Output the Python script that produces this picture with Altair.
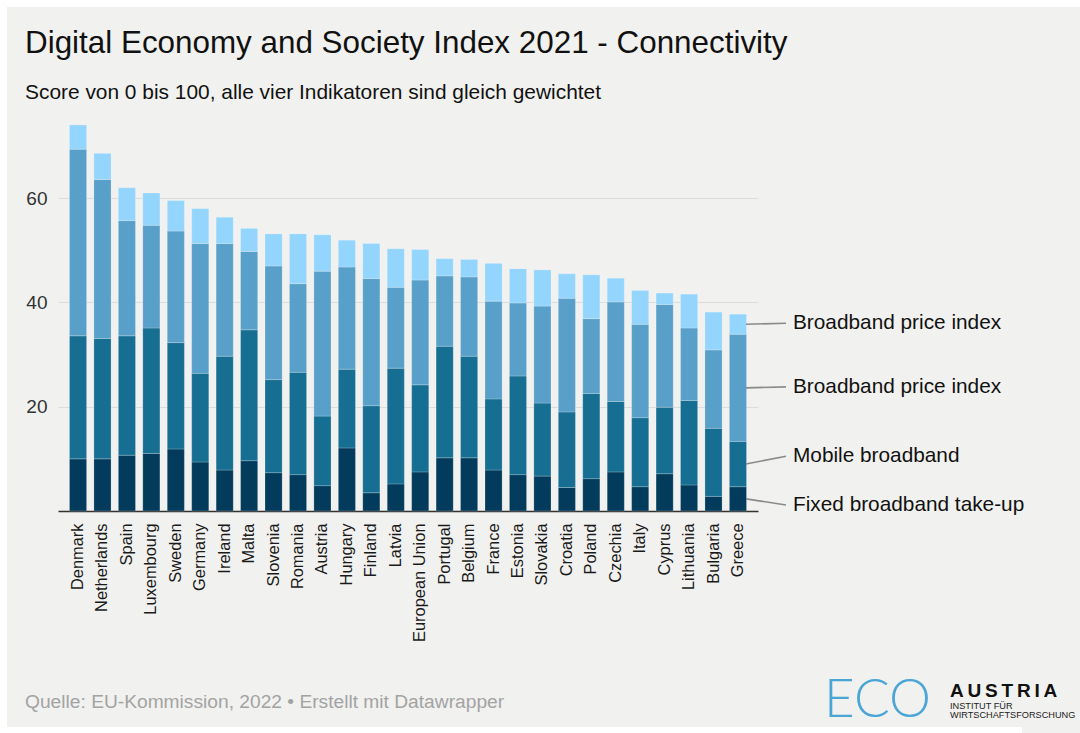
import altair as alt
import pandas as pd

# ---------------- data ----------------
countries = ["Denmark", "Netherlands", "Spain", "Luxembourg", "Sweden", "Germany",
             "Ireland", "Malta", "Slovenia", "Romania", "Austria", "Hungary",
             "Finland", "Latvia", "European Union", "Portugal", "Belgium", "France",
             "Estonia", "Slovakia", "Croatia", "Poland", "Czechia", "Italy",
             "Cyprus", "Lithuania", "Bulgaria", "Greece"]

fixed_takeup = [10.0, 10.0, 10.7, 11.05, 11.9, 9.4, 7.86, 9.65, 7.35, 6.97, 4.86, 12.1,
                3.5, 5.2, 7.5, 10.2, 10.2, 7.86, 6.97, 6.7, 4.5, 6.2, 7.5, 4.66,
                7.15, 5.0, 2.8, 4.66]
mobile_bb = [23.6, 23.1, 22.9, 24.05, 20.4, 17.0, 21.84, 25.1, 17.85, 19.63, 13.34, 15.1,
             16.7, 22.2, 16.7, 21.4, 19.5, 13.64, 18.93, 14.0, 14.5, 16.35, 13.5, 13.24,
             12.75, 16.2, 13.05, 8.69]
price_index_2 = [35.8, 30.5, 22.1, 19.7, 21.4, 24.9, 21.6, 15.05, 21.8, 17.0, 27.8, 19.6,
                 24.4, 15.5, 20.1, 13.5, 15.2, 18.75, 14.0, 18.6, 21.8, 14.35, 19.1, 17.9,
                 19.7, 13.9, 15.05, 20.55]
price_index_1 = [4.65, 5.0, 6.3, 6.2, 5.85, 6.7, 5.05, 4.4, 6.15, 9.55, 6.97, 5.15,
                 6.7, 7.4, 5.85, 3.3, 3.35, 7.25, 6.55, 6.95, 4.7, 8.4, 4.55, 6.5,
                 2.2, 6.5, 7.25, 3.85]

series_keys = ["fixed", "mobile", "price2", "price1"]
series_labels = ["Fixed broadband take-up", "Mobile broadband",
                 "Broadband price index", "Broadband price index"]
series_colors = ["#023b5c", "#166e93", "#58a0c9", "#94d5fd"]
label_values = [1.15, 10.5, 23.8, 36.0]   # vertical position of the right-hand labels

title = "Digital Economy and Society Index 2021 - Connectivity"
subtitle = "Score von 0 bis 100, alle vier Indikatoren sind gleich gewichtet"
footer = "Quelle: EU-Kommission, 2022 \u2022 Erstellt mit Datawrapper"

# ---------------- build tables ----------------
cols = [fixed_takeup, mobile_bb, price_index_2, price_index_1]
rows = []
for i, c in enumerate(countries):
    for k, key in enumerate(series_keys):
        rows.append({"country": c, "series": key, "order": k, "value": cols[k][i]})
df = pd.DataFrame(rows)

last = len(countries) - 1
cum = 0.0
mids = []
for k in range(4):
    v = cols[k][last]
    mids.append(cum + v / 2)
    cum += v
ann = pd.DataFrame({"mid": mids, "lab": label_values, "text": series_labels})

FONT = "Liberation Sans"
BG = "#f1f1ef"
W, H = 700, 391
PL, PT = 58, 120

x_enc = alt.X("country:N", sort=countries,
              scale=alt.Scale(paddingInner=0.3, paddingOuter=0.47),
              axis=alt.Axis(title=None, labelAngle=-90, labelFontSize=16.4, labelColor="#1a1a1a",
                            labelFont=FONT, labelPadding=12, ticks=False,
                            domainColor="#333333", domainWidth=1.6, labelOverlap=False))
y_scale = alt.Scale(domain=[0, 75], nice=False)

bars = alt.Chart(df).mark_bar(stroke="#ffffff", strokeWidth=0.6, strokeOpacity=0.35).encode(
    x=x_enc,
    y=alt.Y("value:Q", stack="zero", scale=y_scale,
            axis=alt.Axis(title=None, values=[20, 40, 60], labelFontSize=19, labelColor="#333333",
                          labelFont=FONT, labelPadding=11, ticks=False, domain=False,
                          gridColor="#dcdcda", gridWidth=1)),
    color=alt.Color("series:N", scale=alt.Scale(domain=series_keys, range=series_colors),
                    legend=None),
    order=alt.Order("order:Q", sort="ascending"),
)

rules = alt.Chart(ann).mark_rule(color="#8a8a8a", strokeWidth=1.6).encode(
    x=alt.value(688), x2=alt.value(728),
    y=alt.Y("mid:Q", scale=y_scale), y2="lab:Q",
)
labels = alt.Chart(ann).mark_text(align="left", baseline="middle", font=FONT, fontSize=20.8,
                                  color="#111111").encode(
    x=alt.value(735), y=alt.Y("lab:Q", scale=y_scale), text="text:N"
)


def txt(t, x, y, size, color="#111111", weight="normal", font=FONT, baseline="alphabetic"):
    return alt.Chart(pd.DataFrame({"t": [t]})).mark_text(
        align="left", baseline=baseline, font=font, fontSize=size, color=color,
        fontWeight=weight).encode(x=alt.value(x - PL), y=alt.value(y - PT), text="t:N")


def box(x0, y0, x1, y1, color):
    return alt.Chart(pd.DataFrame({"a": [0]})).mark_rect(color=color).encode(
        x=alt.value(x0 - PL), x2=alt.value(x1 - PL), y=alt.value(y0 - PT), y2=alt.value(y1 - PT))


chart = alt.layer(
    box(0, 0, 1080, 7, "#ffffff"),
    box(0, 0, 7, 733, "#ffffff"),
    box(0, 727, 1022, 733, "#ffffff"),
    bars, rules, labels,
    txt(title, 25, 53, 31.4),
    txt(subtitle, 25, 99, 20.9),
    txt(footer, 25, 708, 19.2, color="#a3a3a3"),
    txt("ECO", 824, 717, 53, color="#4ba6d6", weight=300, font="Lato"),
    txt("A\u2009U\u2009S\u2009T\u2009R\u2009I\u2009A", 950, 697, 19, weight="bold"),
    txt("INSTITUT FÜR", 950, 709, 9.2, color="#222222"),
    txt("WIRTSCHAFTSFORSCHUNG", 950, 718, 9.2, color="#222222"),
).properties(
    width=W, height=H,
    autosize=alt.AutoSizeParams(type="none"),
    padding={"left": PL, "top": PT, "right": 1080 - PL - W, "bottom": 733 - PT - H},
    background=BG,
).configure_view(stroke=None).configure_axis(gridColor="#dcdcda")

chart.save("out.html", embed_options={"renderer": "svg", "actions": False})
